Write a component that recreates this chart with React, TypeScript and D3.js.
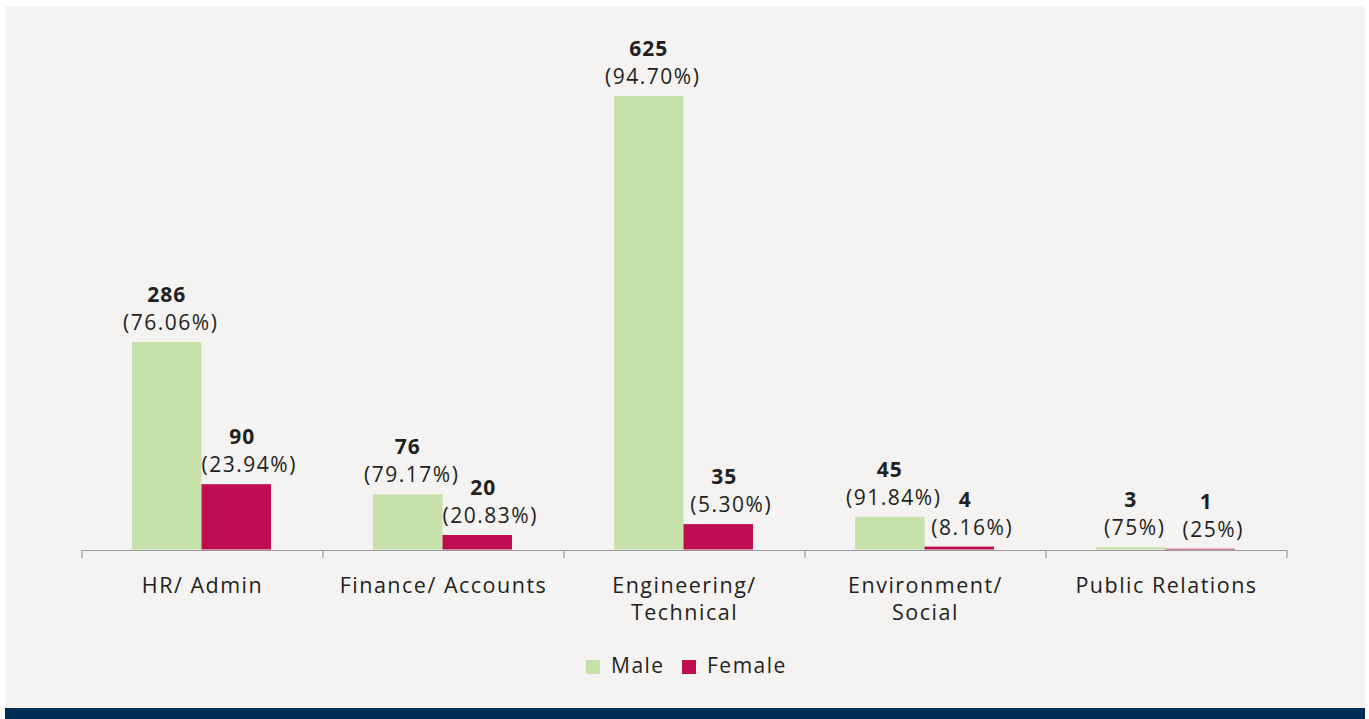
import React from "react";
import * as d3 from "d3";

const categories: string[][] = [
  ["HR/ Admin"],
  ["Finance/ Accounts"],
  ["Engineering/", "Technical"],
  ["Environment/", "Social"],
  ["Public Relations"],
];
const seriesNames = ["Male", "Female"];
const maleValues = [286, 76, 625, 45, 3];
const femaleValues = [90, 20, 35, 4, 1];
const malePct = ["(76.06%)", "(79.17%)", "(94.70%)", "(91.84%)", "(75%)"];
const femalePct = ["(23.94%)", "(20.83%)", "(5.30%)", "(8.16%)", "(25%)"];

const W = 1369;
const H = 719;
const COLORS = ["#c6e1a9", "#bc0e50"];
const TEXT = "#231f20";
const FONT = "'Open Sans', 'Noto Sans', sans-serif";

export default function App() {
  const keys = categories.map((c) => c.join(" "));
  const x = d3.scaleBand<string>().domain(keys).range([82, 1287]).padding(0);
  const bw = x.bandwidth();
  const xi = d3.scaleBand<string>().domain(seriesNames).range([50, bw - 52]).padding(0);
  const y = d3.scaleLinear().domain([0, 625]).range([549.5, 96]);
  const values = [maleValues, femaleValues];
  const pcts = [malePct, femalePct];
  const valDx = [0, 6];
  const pctDx = [4, 13];
  const ticks = [...keys.map((k) => x(k) as number), 1287];

  return (
    <svg
      width={W}
      height={H}
      style={{ position: "absolute", left: 0, top: 0, display: "block" }}
      fontFamily={FONT}
    >
      <rect x={5} y={6} width={1360} height={702} fill="#f4f3f1" />
      <rect x={5} y={708} width={1360} height={11} fill="#002d55" />

      {values.map((vals, si) =>
        vals.map((v, ci) => {
          const bx = (x(keys[ci]) as number) + (xi(seriesNames[si]) as number);
          const top = y(v);
          const cx = bx + xi.bandwidth() / 2;
          return (
            <g key={`${si}-${ci}`}>
              <rect x={bx} y={top} width={xi.bandwidth()} height={y(0) - top} fill={COLORS[si]} />
              <text
                x={cx + valDx[si]}
                y={top - 40}
                textAnchor="middle"
                fontSize={21}
                fontWeight={700}
                fill={TEXT}
                letterSpacing={1}
              >
                {v}
              </text>
              <text
                x={cx + pctDx[si]}
                y={top - 12}
                textAnchor="middle"
                fontSize={21}
                fill={TEXT}
                letterSpacing={1.5}
              >
                {pcts[si][ci]}
              </text>
            </g>
          );
        })
      )}

      <line x1={82} x2={1287} y1={550.5} y2={550.5} stroke="#9a9a9a" strokeWidth={1.2} />
      {ticks.map((t, i) => (
        <line key={i} x1={t} x2={t} y1={550} y2={558} stroke="#9a9a9a" strokeWidth={1.2} />
      ))}

      {categories.map((lines, ci) => (
        <text
          key={ci}
          x={(x(keys[ci]) as number) + bw / 2}
          y={593}
          textAnchor="middle"
          fontSize={21.5}
          fill={TEXT}
          letterSpacing={1.5}
        >
          {lines.map((l, li) => (
            <tspan key={li} x={(x(keys[ci]) as number) + bw / 2} dy={li === 0 ? 0 : 27}>
              {l}
            </tspan>
          ))}
        </text>
      ))}

      {seriesNames.map((s, i) => {
        const lx = [586, 682][i];
        return (
          <g key={s}>
            <rect x={lx} y={660} width={14} height={14} fill={COLORS[i]} />
            <text x={lx + 25} y={673} fontSize={21} fill={TEXT} letterSpacing={1.5}>
              {s}
            </text>
          </g>
        );
      })}
    </svg>
  );
}
